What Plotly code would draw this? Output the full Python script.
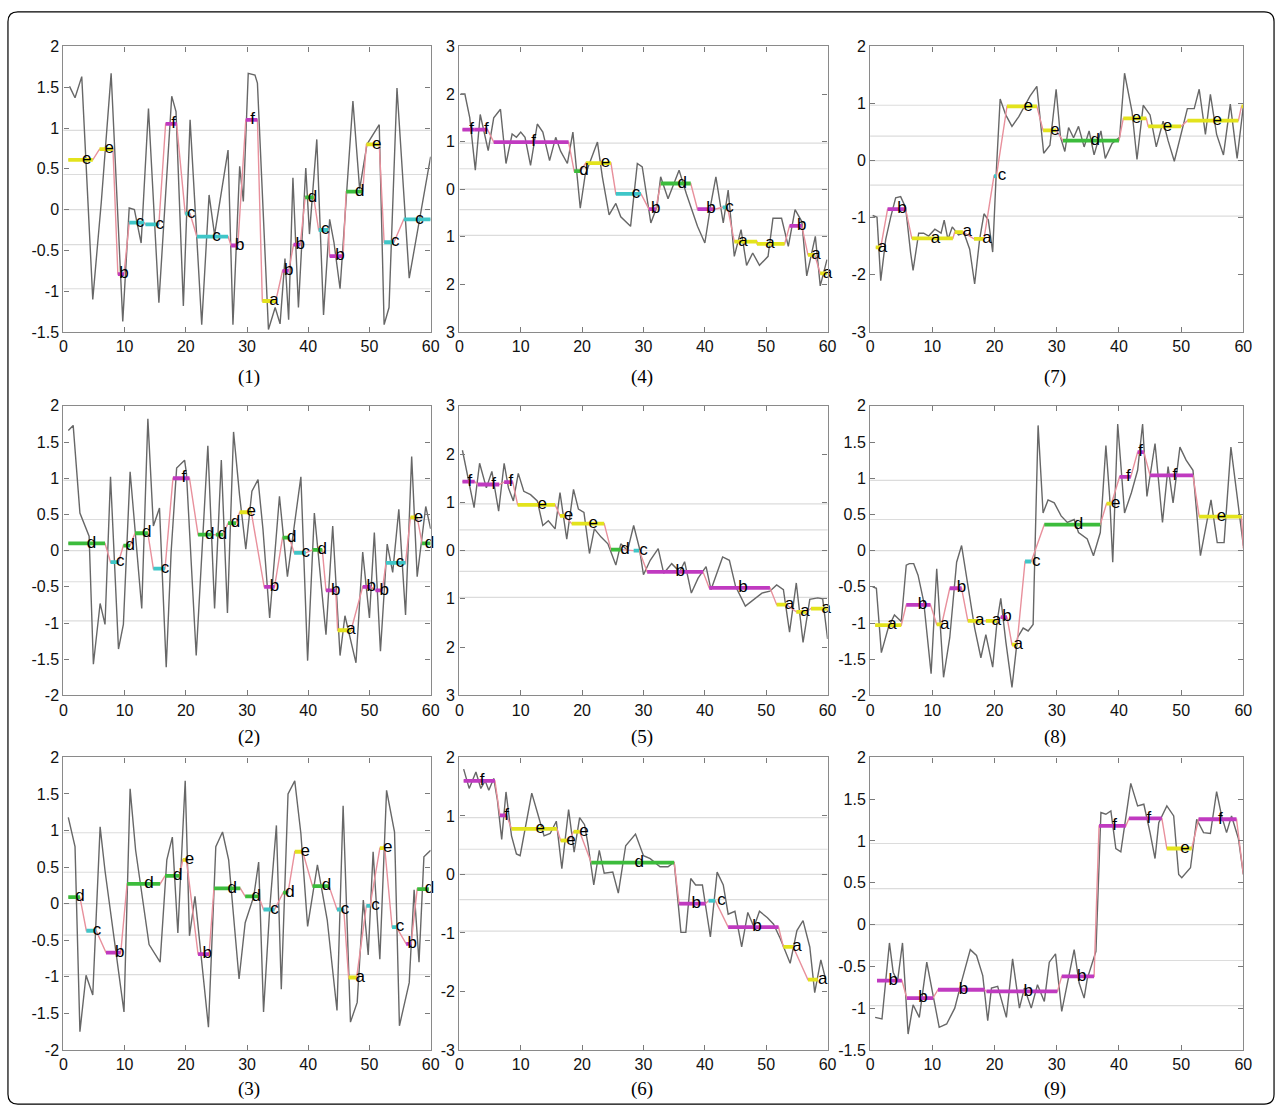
import plotly.graph_objects as go

# ---------------- data ----------------
# gray series (x, y) for each panel
p1_x = [1.0, 1.9, 3.0, 4.8, 6.2, 7.8, 9.7, 10.75, 11.6, 12.7, 13.9, 15.6, 17.7, 18.4, 19.6, 20.7, 22.6, 23.8, 24.7, 26.9, 27.7, 28.8, 29.4, 30.2, 31.3, 31.7, 33.5, 34.6, 35.4, 36.2, 36.8, 37.5, 38.4, 39.6, 40.2, 41.4, 42.5, 43.5, 44.2, 45.2, 47.3, 48.4, 49.6, 51.6, 52.4, 53.2, 54.5, 56.5, 60.0]
p1_y = [1.51, 1.37, 1.63, -1.10, 0.10, 1.67, -1.37, 0.02, 0.0, -0.41, 1.24, -1.14, 1.39, 1.20, -1.18, 1.10, -1.41, 0.18, -0.31, 0.73, -1.41, 0.53, 0.10, 1.67, 1.65, 1.55, -1.47, -1.20, -1.40, -0.60, -1.35, 0.39, -1.20, 0.51, -0.30, 0.86, -1.29, -0.12, -0.40, -0.97, 1.33, 0.25, 0.80, 1.04, -1.41, -1.20, 1.49, -0.84, 0.65]

p2_x = [0.8, 1.6, 2.7, 3.5, 4.2, 4.9, 6.0, 6.8, 7.7, 9.0, 9.8, 10.9, 12.8, 13.8, 14.7, 15.7, 16.8, 17.6, 18.5, 19.8, 20.1, 21.7, 23.6, 24.7, 25.8, 26.8, 27.8, 28.8, 29.8, 30.8, 31.8, 32.6, 33.7, 35.3, 36.6, 38.8, 39.9, 41.0, 41.8, 42.9, 44.0, 45.2, 46.0, 47.8, 48.9, 50.0, 50.8, 51.8, 52.9, 53.8, 54.8, 55.9, 56.9, 57.8, 59.2, 60.0]
p2_y = [1.66, 1.73, 0.52, 0.34, 0.20, -1.57, -0.73, -1.02, 1.02, -1.36, -1.02, 1.09, -0.80, 1.82, 0.34, 0.59, -1.61, -0.02, 1.14, 1.25, 1.07, -1.45, 1.45, -0.80, 1.25, -0.86, 1.64, 0.75, 0.02, 0.82, 0.98, 0.30, -0.93, 0.75, -0.36, 1.02, -1.52, 0.52, -0.20, -1.16, 0.34, -1.45, -0.90, -1.55, -0.02, -0.93, 0.25, -1.39, 0.09, -0.30, 0.57, -0.89, 1.30, -0.36, 0.61, 0.30]

p3_x = [0.8, 1.9, 2.7, 3.7, 4.8, 6.0, 6.8, 9.9, 10.9, 11.8, 14.0, 15.8, 16.9, 17.8, 18.7, 19.9, 20.6, 21.5, 23.7, 24.9, 26.0, 27.0, 28.7, 29.7, 31.1, 31.9, 32.7, 33.7, 34.8, 35.6, 36.7, 37.8, 38.8, 39.9, 41.5, 43.1, 44.7, 45.7, 46.9, 48.0, 49.0, 49.8, 50.6, 51.7, 52.8, 54.1, 54.9, 56.5, 57.3, 58.1, 58.9, 60.0]
p3_y = [1.18, 0.78, -1.75, -0.98, -1.25, 1.05, 0.45, -1.48, 1.57, 0.73, -0.56, -0.80, 0.60, 0.91, -0.40, 1.68, -0.44, 0.10, -1.69, 0.78, 0.98, 0.60, -1.03, -0.26, 0.10, 0.57, -1.48, -0.08, 1.07, -1.17, 1.50, 1.68, 0.96, -0.31, 0.53, -0.22, -1.46, 1.34, -1.62, -1.35, 0.05, -0.70, 0.71, -0.76, 1.55, 0.98, -1.67, -1.08, 0.19, -0.80, 0.64, 0.73]

p4_x = [0.2, 0.9, 1.7, 2.6, 3.4, 3.9, 4.7, 5.6, 6.7, 7.6, 8.6, 9.3, 10.0, 10.7, 11.6, 12.7, 13.6, 14.7, 15.7, 16.5, 17.6, 18.5, 19.7, 20.5, 22.5, 23.3, 24.4, 25.5, 26.3, 27.9, 29.0, 29.8, 31.2, 32.2, 32.8, 34.0, 35.8, 37.0, 38.8, 40.0, 41.0, 41.8, 43.0, 43.8, 44.8, 45.9, 46.8, 47.8, 48.9, 50.3, 51.1, 52.5, 53.6, 54.7, 55.8, 56.6, 58.0, 58.8, 59.9]
p4_y = [2.0, 2.0, 1.5, 0.4, 1.57, 1.3, 0.81, 1.5, 1.68, 0.54, 1.16, 1.09, 1.2, 1.09, 0.5, 1.37, 1.2, 0.6, 1.09, 0.8, 0.54, 1.2, -0.4, 0.3, 0.99, 0.26, -0.54, -0.3, -0.58, -0.78, 0.54, 0.47, -0.71, -0.37, 0.26, -0.2, 0.4, -0.1, -0.78, -1.13, -0.3, 0.26, -0.71, -0.02, -1.41, -0.85, -1.6, -1.34, -1.6, -1.41, -0.61, -0.61, -1.2, -0.43, -0.68, -1.82, -0.99, -2.03, -1.48]

p5_x = [0.5, 1.4, 2.4, 3.3, 4.4, 5.3, 6.4, 7.3, 8.0, 8.8, 9.6, 10.5, 11.6, 12.7, 13.6, 14.5, 15.6, 16.4, 17.5, 18.6, 19.4, 20.3, 21.2, 22.0, 23.1, 24.2, 25.5, 26.3, 27.4, 28.4, 29.3, 30.0, 31.1, 32.4, 33.3, 34.6, 35.9, 36.7, 37.8, 38.9, 40.2, 41.0, 42.9, 44.0, 45.0, 46.6, 48.0, 49.3, 50.6, 51.7, 52.8, 53.8, 54.9, 56.0, 57.1, 58.4, 59.2, 60.0]
p5_y = [2.08, 1.5, 0.89, 1.81, 1.3, 1.64, 0.82, 1.81, 1.3, 1.03, 1.6, 1.23, 1.16, 1.03, 0.52, 0.62, 0.45, 1.2, 0.24, 1.27, 0.86, 0.79, -0.06, 0.45, 0.28, 0.14, -0.3, 0.14, 0.0, 0.52, 0.07, -0.5, -0.2, 0.04, -0.47, -0.27, -0.44, -0.23, -0.88, -0.57, -0.33, -0.81, -0.13, -0.2, -0.74, -1.15, -1.01, -0.88, -0.84, -0.71, -0.81, -1.69, -0.67, -1.9, -1.01, -0.98, -1.0, -1.83]

p6_x = [0.7, 1.6, 2.7, 3.5, 4.2, 4.8, 5.6, 6.2, 6.9, 7.6, 8.5, 9.3, 9.9, 10.9, 11.8, 12.9, 13.8, 14.8, 15.8, 16.7, 17.8, 18.7, 19.6, 20.4, 21.0, 21.9, 22.8, 23.6, 25.0, 25.9, 27.1, 28.7, 30.0, 31.1, 32.7, 34.0, 35.0, 36.1, 36.9, 37.7, 38.5, 39.6, 40.9, 42.0, 43.0, 43.8, 44.9, 46.0, 47.0, 48.0, 48.9, 50.2, 51.2, 52.3, 53.9, 55.0, 56.0, 57.1, 57.9, 58.9, 59.7]
p6_y = [1.8, 1.47, 1.75, 1.47, 1.6, 1.44, 1.64, 1.27, 0.6, 1.41, 0.66, 0.35, 0.32, 0.88, 1.39, 0.99, 0.66, 0.7, 0.91, 0.1, 1.11, 0.38, 0.97, 0.85, 0.49, -0.18, 0.41, 0.02, 0.04, -0.32, 0.49, 0.69, 0.32, 0.27, 0.13, 0.13, 0.21, -0.99, -0.99, -0.07, -0.18, -0.18, -1.07, 0.04, -0.18, -0.68, -0.63, -1.24, -0.65, -0.9, -0.63, -0.74, -0.85, -1.1, -1.52, -0.96, -0.79, -1.24, -2.02, -1.46, -1.8]

p7_x = [0.4, 1.1, 1.7, 2.5, 3.3, 4.1, 4.9, 5.7, 6.5, 6.9, 7.8, 8.6, 9.4, 10.4, 11.4, 11.9, 12.5, 13.2, 14.2, 15.1, 16.0, 16.8, 17.6, 18.3, 19.0, 19.7, 20.3, 20.9, 21.8, 22.8, 23.9, 24.8, 25.7, 26.8, 27.9, 28.9, 29.9, 30.6, 31.3, 31.9, 32.7, 33.5, 34.4, 35.2, 36.0, 37.1, 37.8, 38.9, 40.1, 40.9, 42.1, 42.9, 43.9, 45.0, 46.0, 47.1, 47.9, 48.9, 50.0, 51.0, 52.1, 52.9, 53.9, 54.7, 55.7, 56.8, 57.9, 59.0, 60.0]
p7_y = [-0.96, -0.99, -2.1, -1.38, -0.99, -0.65, -0.63, -0.82, -1.61, -1.92, -1.27, -1.27, -1.32, -1.2, -1.27, -1.04, -1.38, -1.16, -1.3, -1.27, -1.55, -2.16, -1.38, -0.93, -1.04, -1.6, -0.15, 1.08, 0.8, 0.6, 0.77, 0.95, 1.13, 1.3, 0.13, 0.27, 1.25, 0.41, 0.16, 0.58, 0.4, 0.6, 0.24, 0.52, 0.1, 0.52, 0.04, 0.3, 0.41, 1.53, 0.86, 0.02, 0.97, 0.8, 0.24, 0.69, 0.35, -0.01, 0.46, 0.91, 0.91, 1.25, 0.46, 1.16, 0.46, 0.1, 0.99, 0.04, 0.96]

p8_x = [0.4, 1.0, 1.8, 2.9, 3.9, 5.0, 5.8, 6.3, 7.0, 7.7, 8.6, 9.8, 10.7, 11.8, 12.8, 13.9, 14.7, 15.6, 16.8, 17.8, 18.6, 19.7, 20.4, 21.0, 21.8, 22.8, 23.7, 24.6, 25.4, 26.2, 27.0, 27.8, 28.6, 29.6, 30.7, 31.7, 32.8, 33.5, 34.9, 35.9, 37.0, 37.9, 38.5, 39.0, 39.8, 40.9, 42.0, 43.0, 43.8, 44.5, 45.8, 47.0, 47.9, 48.7, 49.8, 50.8, 51.9, 53.1, 54.8, 55.8, 56.9, 58.0, 59.0, 60.0]
p8_y = [-0.5, -0.52, -1.41, -1.07, -0.89, -0.98, -0.2, -0.18, -0.18, -0.34, -0.7, -1.7, -0.25, -1.75, -1.2, -0.16, 0.07, -0.4, -1.07, -1.48, -1.16, -1.61, -0.98, -0.66, -1.25, -1.89, -1.2, -1.07, -1.11, -1.02, 1.73, 0.52, 0.7, 0.66, 0.48, 0.39, 0.43, 0.25, 0.16, -0.07, 0.25, 1.45, 0.75, -0.16, 1.75, 0.52, 0.8, 1.11, 1.75, 0.75, 1.48, 0.39, 1.16, 0.66, 1.43, 1.25, 1.11, -0.07, 0.7, 0.11, 0.11, 1.43, 0.75, 0.07]

p9_x = [0.8, 1.9, 3.1, 3.7, 4.4, 5.2, 6.1, 6.9, 7.9, 9.1, 10.1, 11.1, 12.3, 13.6, 14.7, 16.1, 17.1, 18.1, 18.9, 19.5, 20.5, 21.9, 22.9, 24.0, 24.8, 25.9, 26.9, 28.0, 28.8, 29.8, 30.8, 32.0, 32.8, 33.6, 34.4, 34.9, 36.3, 37.1, 37.9, 38.7, 39.5, 40.3, 41.1, 41.9, 43.0, 44.0, 45.0, 45.8, 46.4, 47.7, 48.8, 49.6, 50.1, 51.5, 52.5, 53.6, 54.7, 55.7, 56.5, 57.3, 58.1, 59.2, 60.0]
p9_y = [-1.11, -1.13, -0.22, -0.57, -0.68, -0.22, -1.31, -0.96, -1.11, -0.45, -0.84, -1.23, -1.19, -1.0, -0.68, -0.3, -0.37, -0.61, -1.15, -0.76, -0.74, -1.11, -0.41, -1.0, -0.76, -1.0, -0.72, -0.92, -0.45, -0.35, -1.04, -0.61, -0.3, -0.7, -0.88, -0.65, -0.32, 1.34, 1.32, 1.36, 0.91, 0.87, 1.26, 1.69, 1.42, 1.44, 1.1, 0.79, 1.22, 1.42, 1.3, 0.6, 0.56, 0.68, 1.26, 1.1, 1.09, 1.59, 1.3, 1.1, 1.3, 1.03, 0.6]

# symbolic segments: start, end, level, symbol, label position
p1_seg_start = [0.8, 5.9, 8.9, 10.75, 13.4, 16.7, 19.9, 21.8, 27.4, 29.8, 32.5, 35.8, 37.6, 39.5, 41.7, 43.5, 46.2, 49.5, 52.4, 55.6]
p1_seg_end = [4.8, 8.1, 9.9, 13.2, 15.6, 18.5, 20.7, 26.9, 28.5, 31.7, 34.7, 36.8, 38.7, 40.9, 43.3, 45.7, 48.9, 51.6, 54.0, 60.0]
p1_seg_level = [0.61, 0.74, -0.79, -0.16, -0.18, 1.05, -0.05, -0.33, -0.44, 1.10, -1.12, -0.75, -0.43, 0.15, -0.25, -0.57, 0.22, 0.80, -0.40, -0.12]
p1_seg_sym = list("eebccfccbfabbdcbdecc")
p1_sym_x = [3.8, 7.5, 9.9, 12.5, 15.75, 18.0, 20.9, 25.0, 28.8, 30.9, 34.4, 36.8, 38.7, 40.7, 42.8, 45.2, 48.4, 51.2, 54.2, 58.2]

p2_seg_start = [0.8, 7.7, 9.8, 11.7, 14.7, 17.9, 22.0, 24.9, 26.9, 28.8, 32.8, 35.8, 37.7, 40.7, 42.9, 44.8, 48.9, 51.0, 52.7, 56.7, 58.6]
p2_seg_end = [6.8, 9.0, 10.9, 13.8, 16.6, 20.6, 24.4, 26.1, 28.2, 30.7, 34.5, 36.9, 39.6, 42.3, 44.5, 47.0, 50.2, 52.1, 55.9, 57.8, 60.0]
p2_seg_level = [0.10, -0.16, 0.07, 0.24, -0.25, 1.00, 0.22, 0.22, 0.38, 0.53, -0.50, 0.18, -0.03, 0.01, -0.55, -1.10, -0.50, -0.55, -0.17, 0.46, 0.10]
p2_seg_sym = list("dcddcfdddebdcdbabbced")
p2_sym_x = [4.6, 9.3, 10.9, 13.6, 16.6, 19.7, 23.9, 26.0, 28.1, 30.7, 34.5, 37.3, 39.6, 42.3, 44.5, 47.0, 50.3, 52.4, 55.0, 58.0, 59.8]

p3_seg_start = [0.8, 3.75, 6.96, 10.4, 16.6, 19.5, 22.0, 24.6, 29.7, 32.7, 35.9, 37.8, 40.7, 44.7, 46.6, 49.5, 51.7, 53.7, 56.0, 57.8]
p3_seg_end = [2.7, 5.36, 9.37, 15.8, 19.0, 20.1, 23.8, 28.9, 31.9, 34.5, 36.7, 39.1, 43.4, 45.8, 47.9, 50.1, 52.5, 54.4, 56.8, 59.7]
p3_seg_level = [0.09, -0.37, -0.67, 0.27, 0.38, 0.60, -0.69, 0.21, 0.10, -0.08, 0.15, 0.71, 0.24, -0.08, -1.01, -0.03, 0.76, -0.32, -0.55, 0.20]
p3_seg_sym = list("dcbddebddcdedcacecbd")
p3_sym_x = [2.7, 5.5, 9.2, 14.0, 18.7, 20.6, 23.5, 27.6, 31.5, 34.5, 37.0, 39.5, 43.0, 46.0, 48.5, 51.0, 53.0, 55.0, 57.0, 59.8]

p4_seg_start = [0.5, 2.5, 5.6, 18.7, 20.6, 25.5, 30.9, 32.8, 38.8, 42.9, 44.8, 48.5, 53.8, 56.8, 58.8]
p4_seg_end = [2.5, 4.6, 17.8, 19.7, 24.7, 29.6, 32.0, 37.7, 41.6, 43.7, 48.5, 53.0, 55.8, 57.9, 60.0]
p4_seg_level = [1.25, 1.25, 0.99, 0.38, 0.55, -0.10, -0.42, 0.12, -0.42, -0.38, -1.10, -1.15, -0.77, -1.38, -1.77]
p4_seg_sym = list("fffdecbdbcaabaa")
p4_sym_x = [2.0, 4.4, 12.1, 20.3, 23.8, 28.8, 32.0, 36.3, 41.0, 44.0, 46.2, 50.6, 55.8, 58.1, 60.0]

p5_seg_start = [0.5, 3.0, 7.3, 9.5, 16.4, 18.3, 24.7, 28.4, 30.6, 40.7, 51.7, 54.9, 57.3]
p5_seg_end = [2.5, 6.5, 8.7, 15.6, 17.2, 23.6, 26.3, 29.3, 39.7, 50.6, 53.3, 56.5, 60.0]
p5_seg_level = [1.43, 1.37, 1.42, 0.95, 0.72, 0.56, 0.02, 0.0, -0.44, -0.77, -1.12, -1.27, -1.20]
p5_seg_sym = list("fffeeedcbbaaa")
p5_sym_x = [1.7, 5.6, 8.4, 13.5, 17.8, 21.8, 27.0, 30.0, 36.0, 46.2, 53.8, 56.3, 59.8]

p6_seg_start = [0.7, 6.6, 8.5, 16.5, 18.6, 21.5, 35.8, 40.6, 43.8, 52.8, 56.8]
p6_seg_end = [5.8, 7.7, 15.9, 17.8, 19.6, 35.0, 40.1, 41.7, 52.0, 54.4, 58.4]
p6_seg_level = [1.60, 1.01, 0.78, 0.58, 0.73, 0.20, -0.50, -0.45, -0.90, -1.24, -1.80]
p6_seg_sym = list("ffeeedbcbaa")
p6_sym_x = [3.7, 7.7, 13.2, 18.2, 20.3, 29.3, 38.6, 42.7, 48.5, 55.0, 59.2]

p7_seg_start = [0.9, 2.8, 6.7, 13.6, 16.7, 19.9, 22.0, 27.8, 31.0, 40.7, 44.7, 51.0, 59.7]
p7_seg_end = [1.7, 5.7, 13.3, 14.9, 18.3, 20.3, 26.8, 29.9, 40.0, 44.4, 50.0, 59.2, 60.0]
p7_seg_level = [-1.52, -0.85, -1.36, -1.25, -1.37, -0.27, 0.95, 0.53, 0.35, 0.74, 0.60, 0.70, 0.95]
p7_seg_sym = list("abaaaceedeeee")
p7_sym_x = [2.0, 5.1, 10.5, 15.6, 18.8, 21.2, 25.4, 29.7, 36.2, 42.8, 47.8, 55.8, 60.8]

p8_seg_start = [0.8, 5.8, 10.7, 12.8, 15.7, 18.6, 21.0, 22.8, 24.9, 28.0, 38.0, 40.1, 43.0, 45.0, 52.9, 60.0]
p8_seg_end = [5.0, 9.7, 11.5, 14.7, 18.1, 20.4, 22.0, 23.6, 25.9, 37.0, 38.8, 41.9, 44.0, 51.9, 59.7, 60.0]
p8_seg_level = [-1.03, -0.75, -1.02, -0.52, -0.97, -0.97, -0.92, -1.30, -0.15, 0.36, 0.65, 1.02, 1.36, 1.04, 0.47, 0.03]
p8_seg_sym = list("ababaabacdefffed")
p8_sym_x = [3.5, 8.4, 12.0, 14.7, 17.6, 20.3, 22.0, 23.8, 26.7, 33.5, 39.5, 41.5, 43.5, 49.0, 56.5, 60.7]

p9_seg_start = [1.1, 5.9, 10.9, 18.7, 30.8, 36.8, 41.6, 47.7, 52.8, 60.0]
p9_seg_end = [5.1, 10.1, 18.4, 30.1, 36.0, 41.1, 46.9, 51.7, 58.9, 60.0]
p9_seg_level = [-0.67, -0.88, -0.78, -0.80, -0.62, 1.18, 1.27, 0.91, 1.26, 0.60]
p9_seg_sym = list("bbbbbffefe")
p9_sym_x = [3.7, 8.5, 15.0, 25.4, 34.0, 39.3, 44.8, 50.6, 56.3, 60.7]

breakpoints = [-0.97, -0.43, 0.0, 0.43, 0.97]
captions = ["(1)", "(2)", "(3)", "(4)", "(5)", "(6)", "(7)", "(8)", "(9)"]
y_ranges = [(-1.5, 2), (-2, 2), (-2, 2), (-3, 3), (-3, 3), (-3, 2), (-3, 2), (-2, 2), (-1.5, 2)]
y_steps = [0.5, 0.5, 0.5, 1, 1, 1, 1, 0.5, 0.5]
unsigned_ticks = [False, False, False, True, True, False, False, False, False]
x_ticks = [0, 10, 20, 30, 40, 50, 60]

sym_colors = {"a": "#e3e31c", "e": "#e3e31c", "b": "#c03ac0", "f": "#c03ac0",
              "c": "#3fc6c8", "d": "#3cbc3c"}

series = [(p1_x, p1_y), (p2_x, p2_y), (p3_x, p3_y), (p4_x, p4_y), (p5_x, p5_y),
          (p6_x, p6_y), (p7_x, p7_y), (p8_x, p8_y), (p9_x, p9_y)]
segments = [
    (p1_seg_start, p1_seg_end, p1_seg_level, p1_seg_sym, p1_sym_x),
    (p2_seg_start, p2_seg_end, p2_seg_level, p2_seg_sym, p2_sym_x),
    (p3_seg_start, p3_seg_end, p3_seg_level, p3_seg_sym, p3_sym_x),
    (p4_seg_start, p4_seg_end, p4_seg_level, p4_seg_sym, p4_sym_x),
    (p5_seg_start, p5_seg_end, p5_seg_level, p5_seg_sym, p5_sym_x),
    (p6_seg_start, p6_seg_end, p6_seg_level, p6_seg_sym, p6_sym_x),
    (p7_seg_start, p7_seg_end, p7_seg_level, p7_seg_sym, p7_sym_x),
    (p8_seg_start, p8_seg_end, p8_seg_level, p8_seg_sym, p8_sym_x),
    (p9_seg_start, p9_seg_end, p9_seg_level, p9_seg_sym, p9_sym_x),
]

# ---------------- layout geometry (pixels) ----------------
W, H = 1287, 1118
col_px = [(60, 431), (460, 832), (875, 1252)]
row_px = [(39, 329), (404, 698), (761, 1058)]
cap_x = [247, 645, 1062]
cap_y = [375, 740, 1098]

fig = go.Figure()
layout = dict(width=W, height=H, margin=dict(l=0, r=0, t=0, b=0),
              paper_bgcolor="white", plot_bgcolor="white", showlegend=False,
              font=dict(family="Liberation Sans, Arial", size=15, color="black"))
shapes = []
annotations = []

for k in range(9):
    col, row = k // 3, k % 3
    n = "" if k == 0 else str(k + 1)
    xa, ya = "x" + n, "y" + n
    x0p, x1p = col_px[col]
    y0p, y1p = row_px[row]
    xs, ys = series[k]
    st, en, lv, sy, sx = segments[k]

    # gray raw series
    fig.add_trace(go.Scatter(x=xs, y=ys, mode="lines", xaxis=xa, yaxis=ya,
                             line=dict(color="#676767", width=1.4), hoverinfo="skip"))
    # pink connecting polyline
    px, py = [], []
    for a, b, l in zip(st, en, lv):
        px += [a, b]
        py += [l, l]
    fig.add_trace(go.Scatter(x=px, y=py, mode="lines", xaxis=xa, yaxis=ya,
                             line=dict(color="#e8909c", width=1.4), hoverinfo="skip"))
    # colored symbol segments
    for a, b, l, s in zip(st, en, lv, sy):
        if b > a:
            fig.add_trace(go.Scatter(x=[a, b], y=[l, l], mode="lines", xaxis=xa, yaxis=ya,
                                     line=dict(color=sym_colors[s], width=3.8),
                                     hoverinfo="skip"))
    # letters
    fig.add_trace(go.Scatter(x=sx, y=lv, mode="text", text=sy, xaxis=xa, yaxis=ya,
                             textposition="middle center", cliponaxis=False,
                             textfont=dict(family="Liberation Sans, Arial", size=17, color="black"),
                             hoverinfo="skip"))

    lo, hi = y_ranges[k]
    step = y_steps[k]
    nt = int(round((hi - lo) / step)) + 1
    tv = [round(lo + i * step, 2) for i in range(nt)]
    tt = [("%g" % (abs(v) if unsigned_ticks[k] else v)) for v in tv]

    layout["xaxis" + n] = dict(domain=[x0p / W, x1p / W], anchor=ya, range=[0, 60],
                               tickvals=x_ticks, ticktext=[str(v) for v in x_ticks],
                               ticks="inside", ticklen=5, tickcolor="#7a7a7a",
                               showline=True, linecolor="#8a8a8a", linewidth=1.3,
                               mirror="ticks", showgrid=False, zeroline=False,
                               tickfont=dict(size=16, color="#111111"))
    layout["yaxis" + n] = dict(domain=[1 - y1p / H, 1 - y0p / H], anchor=xa, range=[lo, hi],
                               tickvals=tv, ticktext=tt,
                               ticks="inside", ticklen=5, tickcolor="#7a7a7a",
                               showline=True, linecolor="#8a8a8a", linewidth=1.3,
                               mirror="ticks", showgrid=False, zeroline=False,
                               tickfont=dict(size=16, color="#111111"))
    for bp in breakpoints:
        shapes.append(dict(type="line", xref=xa + " domain", yref=ya, x0=0, x1=1,
                           y0=bp, y1=bp, layer="below",
                           line=dict(color="#dcdcdc", width=1.2)))
    annotations.append(dict(text=captions[k], xref="paper", yref="paper",
                            x=cap_x[col] / W, y=1 - cap_y[row] / H, showarrow=False,
                            xanchor="center", yanchor="middle",
                            font=dict(family="Liberation Serif, Times New Roman", size=19,
                                      color="black")))

# rounded outer frame
r = 10
fx0, fy0, fx1, fy1 = 4, 4, 1283, 1113
def P(x, y):
    return "%.5f,%.5f" % (x / W, 1 - y / H)
path = ("M " + P(fx0 + r, fy0) + " L " + P(fx1 - r, fy0) + " Q " + P(fx1, fy0) + " " + P(fx1, fy0 + r) +
        " L " + P(fx1, fy1 - r) + " Q " + P(fx1, fy1) + " " + P(fx1 - r, fy1) +
        " L " + P(fx0 + r, fy1) + " Q " + P(fx0, fy1) + " " + P(fx0, fy1 - r) +
        " L " + P(fx0, fy0 + r) + " Q " + P(fx0, fy0) + " " + P(fx0 + r, fy0) + " Z")
shapes.append(dict(type="path", xref="paper", yref="paper", path=path,
                   line=dict(color="black", width=1.2), fillcolor="rgba(0,0,0,0)"))

layout["shapes"] = shapes
layout["annotations"] = annotations
fig.update_layout(**layout)
fig.write_html("out.html")
